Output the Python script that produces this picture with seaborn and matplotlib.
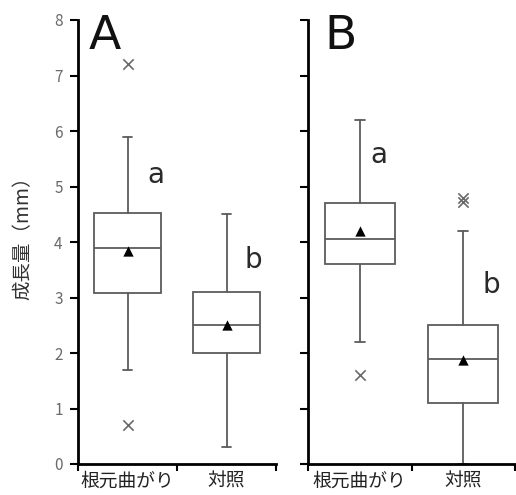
import numpy as np
import pandas as pd
import matplotlib
matplotlib.use("Agg")
import matplotlib.pyplot as plt
import seaborn as sns

sns.set_theme(style="ticks")
plt.rcParams['font.family'] = ['Noto Sans CJK JP', 'DejaVu Sans']

categories = ["根元曲がり", "対照"]
panels = ["A", "B"]

# five-number summaries per panel: [根元曲がり, 対照]
whislo = {"A": [1.7, 0.3], "B": [2.2, 0.0]}
q1 = {"A": [3.08, 2.0], "B": [3.6, 1.1]}
med = {"A": [3.9, 2.5], "B": [4.05, 1.9]}
q3 = {"A": [4.53, 3.1], "B": [4.7, 2.5]}
whishi = {"A": [5.9, 4.5], "B": [6.2, 4.2]}
means = {"A": [3.83, 2.5], "B": [4.2, 1.88]}
fliers = {"A": [[7.2, 0.7], []], "B": [[1.6], [4.72, 4.8]]}

# significance letters
sig_letters = {"A": ["a", "b"], "B": ["a", "b"]}
letter_pos = {"A": [(0.29, 5.06), (1.27, 3.53)], "B": [(0.18, 5.43), (1.27, 3.08)]}

fig = plt.figure(figsize=(5.16, 4.95), dpi=100)
axes = {
    "A": fig.add_axes([78 / 516, 1 - 464 / 495, 198 / 516, 444 / 495]),
    "B": fig.add_axes([308 / 516, 1 - 464 / 495, 207 / 516, 444 / 495]),
}

box_color = "#5c5c5c"

for p in panels:
    ax = axes[p]
    stats = []
    for i in range(len(categories)):
        stats.append(dict(med=med[p][i], q1=q1[p][i], q3=q3[p][i],
                          whislo=whislo[p][i], whishi=whishi[p][i],
                          fliers=[], label=categories[i]))
    ax.bxp(stats, positions=[0, 1], widths=0.68, capwidths=0.1,
           showfliers=False, patch_artist=True,
           boxprops=dict(facecolor="white", edgecolor=box_color, linewidth=1.3),
           medianprops=dict(color=box_color, linewidth=1.3),
           whiskerprops=dict(color=box_color, linewidth=1.3),
           capprops=dict(color=box_color, linewidth=1.3))

    mean_df = pd.DataFrame({"x": [0, 1], "y": means[p]})
    sns.scatterplot(data=mean_df, x="x", y="y", ax=ax, marker="^", s=55,
                    color="black", edgecolor="black", linewidth=0, zorder=5)

    fx, fy = [], []
    for i, fl in enumerate(fliers[p]):
        fx += [i] * len(fl)
        fy += fl
    if fx:
        fl_df = pd.DataFrame({"x": fx, "y": fy})
        sns.scatterplot(data=fl_df, x="x", y="y", ax=ax, marker="x", s=55,
                        color="#6a6a6a", linewidth=1.2, zorder=5)

    ax.set_xlim(-0.5, 1.5)
    ax.set_ylim(0, 8)
    ax.set_yticks(np.arange(0, 9, 1))
    ax.set_xticks([0, 1])
    ax.set_xticklabels(categories)
    ax.set_xticks([-0.5, 0.5, 1.5], minor=True)
    ax.tick_params(axis="x", which="major", length=0, pad=5,
                   labelsize=13.5, labelcolor="#222222")
    ax.tick_params(axis="x", which="minor", length=5, width=1.5,
                   color="black", direction="out")
    ax.tick_params(axis="y", length=6, width=1.5, color="black",
                   direction="out", pad=5, labelsize=11, labelcolor="#6a6a6a")
    for s in ["top", "right"]:
        ax.spines[s].set_visible(False)
    for s in ["left", "bottom"]:
        ax.spines[s].set_color("black")
        ax.spines[s].set_linewidth(2)
    ax.set_xlabel("")
    ax.set_ylabel("")
    ax.set_facecolor("white")

    ax.text(-0.39 if p == "A" else -0.34, 7.47, p, fontsize=34,
            color="#111111", ha="left", va="baseline", family="DejaVu Sans")
    for letter, (lx, ly) in zip(sig_letters[p], letter_pos[p]):
        ax.text(lx, ly, letter, fontsize=20, color="#2a2a2a",
                ha="center", va="baseline", family="DejaVu Sans",
                fontweight="medium")

axes["B"].tick_params(axis="y", labelleft=False)
axes["A"].set_ylabel("成長量（mm）", fontsize=14, color="#333333")
axes["A"].yaxis.set_label_coords(-0.227, 0.52)

fig.savefig("out.png", dpi=100, facecolor="white")
